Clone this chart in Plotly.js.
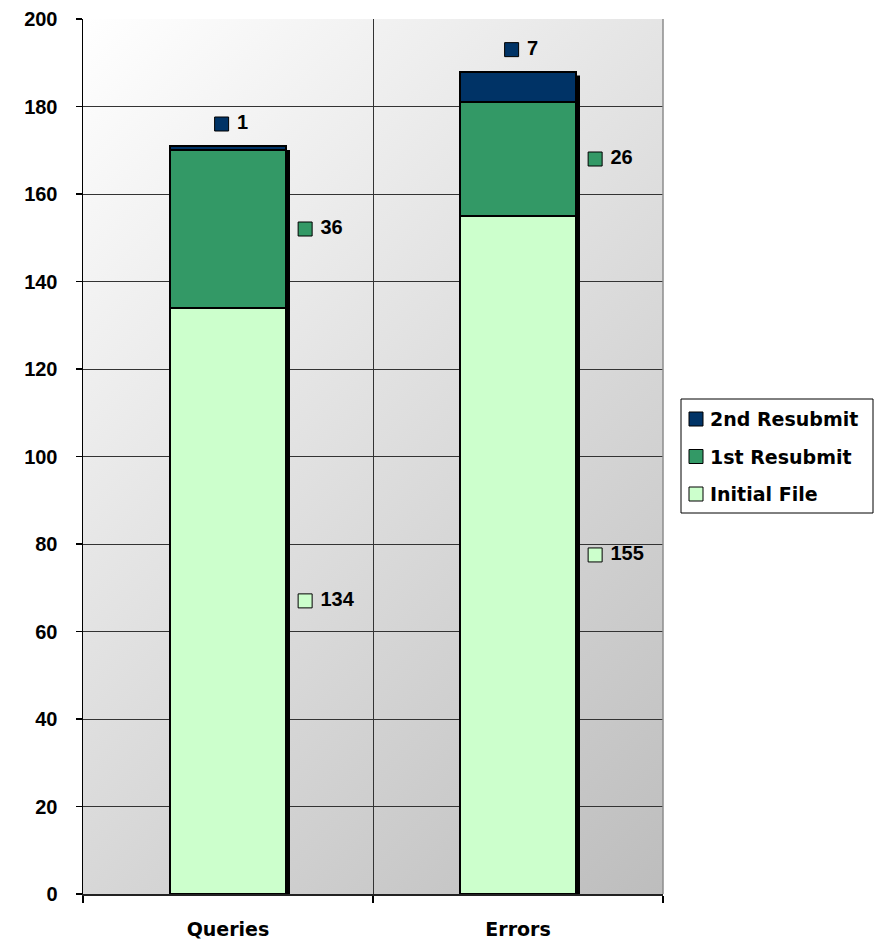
<!DOCTYPE html>
<html>
<head>
<meta charset="utf-8">
<script src="https://cdn.plot.ly/plotly-3.0.1.min.js"></script>
<style>
  html, body { margin: 0; padding: 0; background: #ffffff; }
  #chart { width: 874px; height: 944px; }
</style>
</head>
<body>
<div id="chart"></div>
<script>
// ---- data ----
var categories = ["Queries", "Errors"];
var seriesNames = ["Initial File", "1st Resubmit", "2nd Resubmit"];
var initialFile = [134, 155];
var firstResubmit = [36, 26];
var secondResubmit = [1, 7];
var yTickValues = [0, 20, 40, 60, 80, 100, 120, 140, 160, 180, 200];

// ---- styling ----
var colors = ["#CCFFCC", "#339966", "#003366"];
var W = 874, H = 944;
var M = {l: 83, r: 211, t: 19, b: 50};
var plotW = W - M.l - M.r, plotH = H - M.t - M.b;
function px(x) { return (x - M.l) / plotW; }
function py(y) { return (H - M.b - y) / plotH; }

// gradient background for the plot area
var cv = document.createElement("canvas");
cv.width = plotW; cv.height = plotH;
var ctx = cv.getContext("2d");
var s = (plotW + plotH) / 2;
var g = ctx.createLinearGradient(0, 0, s, s);
g.addColorStop(0, "#ffffff");
g.addColorStop(1, "#bdbdbd");
ctx.fillStyle = g;
ctx.fillRect(0, 0, plotW, plotH);
var bgURL = cv.toDataURL("image/png");

var allSeries = [initialFile, firstResubmit, secondResubmit];
var barWidth = 0.4;
var numFont = {family: "Liberation Sans, Arial, sans-serif", size: 20, color: "#000", weight: "bold"};
var txtFont = {family: "DejaVu Sans, Verdana, sans-serif", size: 19, color: "#000", weight: "bold"};
var NB = "\u00a0";

var traces = [];
allSeries.forEach(function (vals, k) {
  traces.push({
    type: "bar", name: seriesNames[k], x: categories, y: vals,
    width: barWidth, xaxis: "x", yaxis: "y",
    marker: {color: colors[k], line: {color: "#000", width: 2}},
    showlegend: false, hoverinfo: "skip"
  });
});

// totals
var totals = categories.map(function (c, i) {
  return initialFile[i] + firstResubmit[i] + secondResubmit[i];
});

// data labels: squares + values (on a hidden numeric overlay axis)
var idx = categories.map(function (c, i) { return i; });
function lbl(v) { return NB + String(v); }
var mk = function (k) { return {symbol: "square", size: 14, color: colors[k], line: {color: "#000", width: 1}}; };
traces.push({
  type: "scatter", mode: "markers+text", xaxis: "x2", yaxis: "y",
  x: idx.map(function (i) { return i + 0.266; }),
  y: idx.map(function (i) { return initialFile[i] / 2; }),
  text: initialFile.map(lbl), textposition: "middle right", textfont: numFont,
  marker: mk(0), showlegend: false, hoverinfo: "skip", cliponaxis: false
});
traces.push({
  type: "scatter", mode: "markers+text", xaxis: "x2", yaxis: "y",
  x: idx.map(function (i) { return i + 0.266; }),
  y: idx.map(function (i) { return initialFile[i] + firstResubmit[i] / 2; }),
  text: firstResubmit.map(lbl), textposition: "middle right", textfont: numFont,
  marker: mk(1), showlegend: false, hoverinfo: "skip", cliponaxis: false
});
traces.push({
  type: "scatter", mode: "markers+text", xaxis: "x2", yaxis: "y",
  x: idx.map(function (i) { return i - 0.022; }),
  y: idx.map(function (i) { return totals[i] + 5; }),
  text: secondResubmit.map(lbl), textposition: "middle right", textfont: numFont,
  marker: mk(2), showlegend: false, hoverinfo: "skip", cliponaxis: false
});

// shapes: bar shadows, right border, legend
var shapes = [];
var dx = 4 / plotW * 2, dy = 4 / plotH * 200;
idx.forEach(function (i) {
  shapes.push({
    type: "rect", xref: "x", yref: "y", layer: "between",
    x0: i - barWidth / 2 + dx, x1: i + barWidth / 2 + dx, y0: 0, y1: totals[i] - dy,
    fillcolor: "#000", line: {width: 0}
  });
});
shapes.push({
  type: "line", xref: "paper", yref: "paper", layer: "above",
  x0: 1, x1: 1, y0: 0, y1: 1, line: {color: "#8c8c8c", width: 1.5}
});
// legend box
shapes.push({
  type: "rect", xref: "paper", yref: "paper", layer: "above",
  x0: px(681), x1: px(873), y0: py(513), y1: py(399),
  fillcolor: "#ffffff", line: {color: "#000", width: 1}
});
var annotations = [];
var legendOrder = [2, 1, 0];
legendOrder.forEach(function (k, r) {
  var cy = 419 + r * 37.5;
  shapes.push({
    type: "rect", xref: "paper", yref: "paper", layer: "above",
    x0: px(689), x1: px(703), y0: py(cy + 7), y1: py(cy - 7),
    fillcolor: colors[k], line: {color: "#000", width: 1}
  });
  annotations.push({
    xref: "paper", yref: "paper", x: px(708), y: py(cy),
    xanchor: "left", yanchor: "middle", showarrow: false,
    text: seriesNames[k], font: txtFont
  });
});

var layout = {
  width: W, height: H,
  margin: M,
  paper_bgcolor: "#ffffff",
  plot_bgcolor: "rgba(0,0,0,0)",
  barmode: "stack",
  showlegend: false,
  images: [{
    source: bgURL, xref: "paper", yref: "paper", x: 0, y: 1,
    sizex: 1, sizey: 1, sizing: "stretch", layer: "below",
    xanchor: "left", yanchor: "top"
  }],
  xaxis: {
    type: "category", range: [-0.5, 1.5], tickson: "boundaries",
    ticks: "outside", ticklen: 7, tickcolor: "#000", tickwidth: 1.5,
    showline: true, linecolor: "#222", linewidth: 2,
    showgrid: true, gridcolor: "#333", gridwidth: 1,
    tickfont: txtFont, ticklabelstandoff: 17, fixedrange: true
  },
  xaxis2: {
    overlaying: "x", range: [-0.5, 1.5], visible: false, fixedrange: true
  },
  yaxis: {
    range: [0, 200], tickvals: yTickValues,
    ticks: "outside", ticklen: 6, tickcolor: "#000", tickwidth: 1.5,
    showline: true, linecolor: "#000", linewidth: 1.5,
    showgrid: true, gridcolor: "#333", gridwidth: 1, zeroline: false,
    tickfont: numFont, ticklabelstandoff: 14, fixedrange: true
  },
  shapes: shapes,
  annotations: annotations
};

Plotly.newPlot("chart", traces, layout, {displayModeBar: false, staticPlot: true});
</script>
</body>
</html>
